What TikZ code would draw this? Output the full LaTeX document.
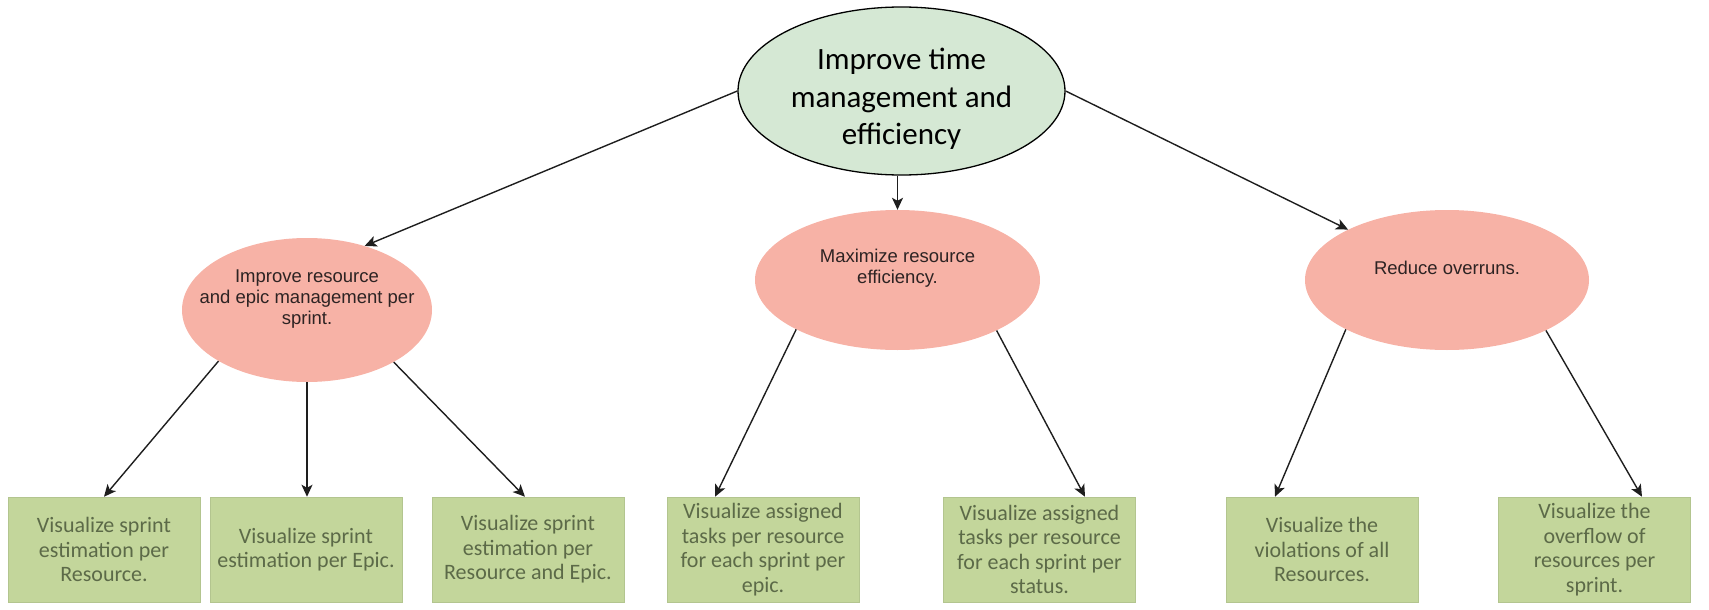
\documentclass[tikz,border=0pt]{standalone}
\usepackage{fontspec}
\setmainfont{Carlito}
\newfontfamily\arialf{Liberation Sans}
\usetikzlibrary{arrows.meta,shapes.geometric}
\definecolor{topfill}{RGB}{213,232,212}
\definecolor{pinkfill}{RGB}{247,178,166}
\definecolor{boxfill}{RGB}{195,214,155}
\definecolor{boxtext}{RGB}{92,106,72}
\definecolor{pinktext}{RGB}{45,35,35}
\definecolor{linec}{RGB}{30,30,30}
\begin{document}
\begin{tikzpicture}[x=1pt,y=-1pt,
 topell/.style={ellipse, draw=black, line width=1.3pt, fill=topfill, minimum width=327pt, minimum height=168pt, inner sep=0pt},
 pinkell/.style={ellipse, fill=pinkfill, inner sep=0pt},
 toptxt/.style={align=center, font=\fontsize{31}{37.5}\selectfont, text=black, inner sep=0pt},
 pinktxt/.style={align=center, font=\arialf\fontsize{18.5}{20.7}\selectfont, text=pinktext, inner sep=0pt},
 leafbox/.style={rectangle, fill=boxfill, draw=boxfill!92!black, line width=0.5pt, minimum width=192pt, minimum height=105pt, inner sep=0pt, align=center, text=boxtext, font=\fontsize{22}{24.5}\selectfont},
 arr/.style={draw=linec, line width=1.4pt, -{Stealth[length=12pt,width=11pt,inset=3pt]}}
]
\useasboundingbox (0,0) rectangle (1709,610);

\node[topell] (top) at (901.5,91) {};
\node[toptxt] (toplbl) at (901.5,99) {Improve time\\management and\\efficiency};

\node[pinkell, minimum width=250pt, minimum height=144pt] (g1) at (307,310) {};
\node[pinktxt] (g1lbl) at (307,299) {Improve resource\\and epic management per\\sprint.};
\node[pinkell, minimum width=285pt, minimum height=140pt] (g2) at (897.5,280) {};
\node[pinktxt] (g2lbl) at (897.5,268) {Maximize resource\\efficiency.};
\node[pinkell, minimum width=284pt, minimum height=140pt] (g3) at (1447,280) {};
\node[pinktxt] (g3lbl) at (1447,268) {Reduce overruns.};

\node[leafbox] (b1) at (104,549.5) {Visualize sprint\\estimation per\\Resource.};
\node[leafbox] (b2) at (306,549.5) {Visualize sprint\\estimation per Epic.};
\node[leafbox] (b3) at (528,549.5) {Visualize sprint\\estimation per\\Resource and Epic.};
\node[leafbox] (b4) at (763,549.5) {Visualize assigned\\tasks per resource\\for each sprint per\\epic.};
\node[leafbox] (b5) at (1039.5,549.5) {Visualize assigned\\tasks per resource\\for each sprint per\\status.};
\node[leafbox] (b6) at (1322,549.5) {Visualize the\\violations of all\\Resources.};
\node[leafbox] (b7) at (1594.5,549.5) {Visualize the\\overflow of\\resources per\\sprint.};

\draw[arr] (top.west) -- (g1.48);
\draw[arr] (g2.north |- top.south) -- (g2.north);
\draw[arr] (top.east) -- (g3.153.4);

\draw[arr] (g1.210) -- (b1.north);
\draw[arr] (g1.south) -- (g1.south |- b2.north);
\draw[arr] (g1.329.4) -- ([xshift=-3pt]b3.north);
\draw[arr] (g2.206.9) -- ([xshift=-48pt]b4.north);
\draw[arr] (g2.333.1) -- ([xshift=45.5pt]b5.north);
\draw[arr] (g3.206.9) -- ([xshift=-47pt]b6.north);
\draw[arr] (g3.333.1) -- ([xshift=47.5pt]b7.north);
\end{tikzpicture}
\end{document}
